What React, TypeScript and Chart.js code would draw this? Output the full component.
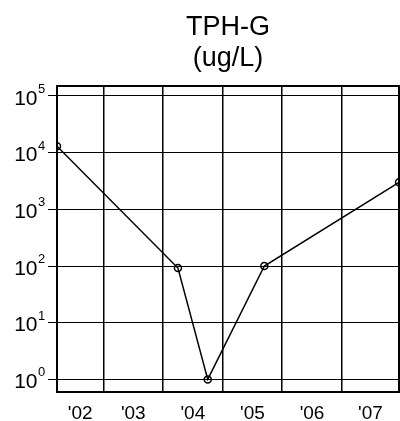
import { useEffect, useRef } from "react";
import { Chart, registerables } from "chart.js";

Chart.register(...registerables);

// Sample dates (decimal years) and TPH-G concentrations in ug/L
const sampleYears = [2002.22, 2004.25, 2004.75, 2005.7, 2007.96];
const tphG = [13000, 92, 1, 100, 3000];

// Year boundaries drawn as vertical grid lines, and the year labels between them
const gridYears = [2003, 2004, 2005, 2006, 2007];
const yearLabels = ["'02", "'03", "'04", "'05", "'06", "'07"];

// Decades on the log axis, labelled 10^n
const decadeExponents = [0, 1, 2, 3, 4, 5];
const titleLines = ["TPH-G", "(ug/L)"];

const FONT = '"Liberation Sans", Arial, Helvetica, sans-serif';
const X_MIN = sampleYears[0];
const X_MAX = sampleYears[sampleYears.length - 1];
const Y_MIN = 0.641;
const Y_MAX = 149700;

const frameAndLabels = {
  id: "frameAndLabels",
  afterDraw(chart: any) {
    const { ctx, chartArea } = chart;
    const { left, right, top, bottom } = chartArea;
    const yScale = chart.scales.y;
    ctx.save();

    // plot frame
    ctx.strokeStyle = "#000";
    ctx.lineWidth = 2;
    ctx.strokeRect(left, top, right - left, bottom - top);

    // two-line title centred over the plot
    ctx.fillStyle = "#000";
    ctx.font = `27px ${FONT}`;
    ctx.textAlign = "center";
    ctx.textBaseline = "alphabetic";
    const cx = (left + right) / 2;
    ctx.fillText(titleLines[0], cx, 34.5);
    ctx.fillText(titleLines[1], cx, 66);

    // power-of-ten tick labels with superscript exponents
    decadeExponents.forEach((p) => {
      const y = yScale.getPixelForValue(Math.pow(10, p));
      ctx.font = `21px ${FONT}`;
      ctx.textAlign = "right";
      ctx.textBaseline = "alphabetic";
      ctx.fillText("10", 37.5, y + 8.6);
      ctx.font = `13px ${FONT}`;
      ctx.textAlign = "left";
      ctx.fillText(String(p), 38, y - 3);
    });
    ctx.restore();
  },
};

export default function App() {
  const canvasRef = useRef<HTMLCanvasElement | null>(null);

  useEffect(() => {
    const canvas = canvasRef.current;
    if (!canvas) return;
    const bounds = [X_MIN, ...gridYears, X_MAX];
    const chart = new Chart(canvas, {
      type: "line",
      data: {
        datasets: [
          {
            data: sampleYears.map((x, i) => ({ x, y: tphG[i] })),
            borderColor: "#000",
            borderWidth: 1.5,
            tension: 0,
            pointRadius: 3.5,
            pointBorderWidth: 1.5,
            pointBorderColor: "#000",
            pointBackgroundColor: "rgba(0,0,0,0)",
            xAxisID: "x",
            yAxisID: "y",
          },
        ],
      },
      options: {
        animation: false,
        responsive: false,
        events: [],
        layout: { autoPadding: false, padding: { top: 86, right: 1, left: 0, bottom: 0 } },
        plugins: {
          legend: { display: false },
          title: { display: false },
          tooltip: { enabled: false },
        },
        scales: {
          x: {
            type: "linear",
            position: "bottom",
            min: X_MIN,
            max: X_MAX,
            afterBuildTicks: (scale: any) => {
              scale.ticks = gridYears.map((v) => ({ value: v }));
            },
            afterFit: (scale: any) => {
              scale.height = 0;
            },
            ticks: { display: false },
            grid: { color: "#000", lineWidth: 1.5, drawTicks: false },
            border: { display: false },
          },
          xl: {
            type: "linear",
            position: "bottom",
            min: X_MIN,
            max: X_MAX,
            afterBuildTicks: (scale: any) => {
              scale.ticks = yearLabels.map((_, i) => ({
                value: (bounds[i] + bounds[i + 1]) / 2,
              }));
            },
            afterFit: (scale: any) => {
              scale.height = 29;
            },
            ticks: {
              color: "#000",
              font: { family: FONT, size: 19 },
              padding: 2,
              maxRotation: 0,
              autoSkip: false,
              callback: (_v: any, i: number) => yearLabels[i],
            },
            grid: { display: false },
            border: { display: false },
          },
          y: {
            type: "logarithmic",
            min: Y_MIN,
            max: Y_MAX,
            afterBuildTicks: (scale: any) => {
              scale.ticks = decadeExponents.map((p) => ({ value: Math.pow(10, p) }));
            },
            afterFit: (scale: any) => {
              scale.width = 57;
            },
            ticks: { display: false },
            grid: { color: "#000", lineWidth: 1, drawTicks: true, tickLength: 9 },
            border: { display: false },
          },
        },
      },
      plugins: [frameAndLabels],
    });
    return () => chart.destroy();
  }, []);

  return (
    <div style={{ position: "absolute", left: 0, top: 0, width: 400, height: 421, overflow: "hidden", background: "#fff" }}>
      <canvas ref={canvasRef} width={400} height={421} style={{ display: "block" }} />
    </div>
  );
}
